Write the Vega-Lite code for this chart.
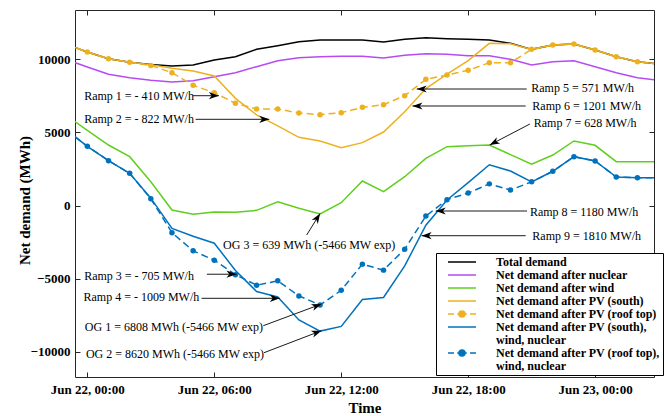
{
  "$schema": "https://vega.github.io/schema/vega-lite/v6.json",
  "width": 579,
  "height": 367,
  "autosize": {"type": "none"},
  "padding": {"left": 75, "top": 10, "right": 14, "bottom": 39},
  "background": "white",
  "config": {"view": {"stroke": "#262626", "strokeWidth": 1}, "font": "Liberation Serif"},
  "resolve": {"axis": {"x": "independent", "y": "independent"}},
  "datasets": {
    "series": [
      {"t": "2019-06-21T23:00", "total": 11030, "nuclear": 9990, "wind": 6170, "south": 11030, "roof": 11030, "south_all": 5170, "roof_all": 5170},
      {"t": "2019-06-22T00:00", "total": 10500, "nuclear": 9470, "wind": 5141, "south": 10500, "roof": 10500, "south_all": 4050, "roof_all": 4050},
      {"t": "2019-06-22T01:00", "total": 10040, "nuclear": 8972, "wind": 4138, "south": 10040, "roof": 10040, "south_all": 3066, "roof_all": 3066},
      {"t": "2019-06-22T02:00", "total": 9793, "nuclear": 8744, "wind": 3338, "south": 9793, "roof": 9793, "south_all": 2200, "roof_all": 2200},
      {"t": "2019-06-22T03:00", "total": 9650, "nuclear": 8561, "wind": 1628, "south": 9630, "roof": 9580, "south_all": 500, "roof_all": 460},
      {"t": "2019-06-22T04:00", "total": 9542, "nuclear": 8447, "wind": -308, "south": 9382, "roof": 9086, "south_all": -1562, "roof_all": -1858},
      {"t": "2019-06-22T05:00", "total": 9610, "nuclear": 8538, "wind": -604, "south": 9200, "roof": 8219, "south_all": -2100, "roof_all": -3100},
      {"t": "2019-06-22T06:00", "total": 9952, "nuclear": 8812, "wind": -446, "south": 8858, "roof": 7718, "south_all": -2580, "roof_all": -3740},
      {"t": "2019-06-22T07:00", "total": 10180, "nuclear": 9086, "wind": -465, "south": 7330, "roof": 6988, "south_all": -4440, "roof_all": -4730},
      {"t": "2019-06-22T08:00", "total": 10682, "nuclear": 9496, "wind": -330, "south": 6200, "roof": 6600, "south_all": -5880, "roof_all": -5450},
      {"t": "2019-06-22T09:00", "total": 10933, "nuclear": 9906, "wind": 260, "south": 5450, "roof": 6600, "south_all": -6260, "roof_all": -5150},
      {"t": "2019-06-22T10:00", "total": 11206, "nuclear": 10112, "wind": -191, "south": 4662, "roof": 6327, "south_all": -7832, "roof_all": -6185},
      {"t": "2019-06-22T11:00", "total": 11320, "nuclear": 10180, "wind": -581, "south": 4412, "roof": 6213, "south_all": -8590, "roof_all": -6800},
      {"t": "2019-06-22T12:00", "total": 11320, "nuclear": 10203, "wind": 193, "south": 3956, "roof": 6350, "south_all": -8270, "roof_all": -5800},
      {"t": "2019-06-22T13:00", "total": 11320, "nuclear": 10203, "wind": 1675, "south": 4298, "roof": 6714, "south_all": -6430, "roof_all": -4010},
      {"t": "2019-06-22T14:00", "total": 11183, "nuclear": 10089, "wind": 946, "south": 5027, "roof": 6897, "south_all": -6290, "roof_all": -4420},
      {"t": "2019-06-22T15:00", "total": 11366, "nuclear": 10271, "wind": 1970, "south": 6418, "roof": 7512, "south_all": -4130, "roof_all": -2990},
      {"t": "2019-06-22T16:00", "total": 11480, "nuclear": 10385, "wind": 3228, "south": 8000, "roof": 8630, "south_all": -1350, "roof_all": -720},
      {"t": "2019-06-22T17:00", "total": 11411, "nuclear": 10340, "wind": 4022, "south": 8994, "roof": 8926, "south_all": 380, "roof_all": 400},
      {"t": "2019-06-22T18:00", "total": 11366, "nuclear": 10248, "wind": 4093, "south": 9906, "roof": 9245, "south_all": 1560, "roof_all": 850},
      {"t": "2019-06-22T19:00", "total": 11320, "nuclear": 10248, "wind": 4138, "south": 11092, "roof": 9770, "south_all": 2790, "roof_all": 1480},
      {"t": "2019-06-22T20:00", "total": 11092, "nuclear": 9998, "wind": 3477, "south": 11069, "roof": 9770, "south_all": 2360, "roof_all": 1058},
      {"t": "2019-06-22T21:00", "total": 10680, "nuclear": 9610, "wind": 2818, "south": 10680, "roof": 10680, "south_all": 1620, "roof_all": 1620},
      {"t": "2019-06-22T22:00", "total": 10978, "nuclear": 9838, "wind": 3454, "south": 10978, "roof": 10978, "south_all": 2340, "roof_all": 2340},
      {"t": "2019-06-22T23:00", "total": 11046, "nuclear": 9906, "wind": 4412, "south": 11046, "roof": 11046, "south_all": 3340, "roof_all": 3340},
      {"t": "2019-06-23T00:00", "total": 10636, "nuclear": 9496, "wind": 4118, "south": 10636, "roof": 10636, "south_all": 3050, "roof_all": 3050},
      {"t": "2019-06-23T01:00", "total": 10180, "nuclear": 9086, "wind": 2996, "south": 10180, "roof": 10180, "south_all": 1950, "roof_all": 1950},
      {"t": "2019-06-23T02:00", "total": 9838, "nuclear": 8744, "wind": 2996, "south": 9838, "roof": 9838, "south_all": 1904, "roof_all": 1904},
      {"t": "2019-06-23T03:00", "total": 9678, "nuclear": 8561, "wind": 2996, "south": 9678, "roof": 9678, "south_all": 1904, "roof_all": 1904}
    ],
    "labels": [
      {"t": "2019-06-21T23:51", "v": 7510, "text": "Ramp 1 = - 410 MW/h"},
      {"t": "2019-06-21T23:51", "v": 5896, "text": "Ramp 2 = - 822 MW/h"},
      {"t": "2019-06-21T23:51", "v": -4822, "text": "Ramp 3 = - 705 MW/h"},
      {"t": "2019-06-21T23:49", "v": -6238, "text": "Ramp 4 = - 1009 MW/h"},
      {"t": "2019-06-21T23:53", "v": -8290, "text": "OG 1 = 6808 MWh (-5466 MW exp)"},
      {"t": "2019-06-21T23:56", "v": -10157, "text": "OG 2 = 8620 MWh (-5466 MW exp)"},
      {"t": "2019-06-22T06:25", "v": -2702, "text": "OG 3 = 639 MWh (-5466 MW exp)"},
      {"t": "2019-06-22T20:59", "v": 8016, "text": "Ramp 5 = 571 MW/h"},
      {"t": "2019-06-22T21:02", "v": 6785, "text": "Ramp 6 = 1201 MW/h"},
      {"t": "2019-06-22T21:06", "v": 5622, "text": "Ramp 7 = 628 MW/h"},
      {"t": "2019-06-22T20:55", "v": -424, "text": "Ramp 8 = 1180 MW/h"},
      {"t": "2019-06-22T21:02", "v": -2066, "text": "Ramp 9 = 1810 MW/h"}
    ],
    "arrows": [
      {"id": "R1", "t": "2019-06-22T04:59", "v": 7510, "t2": "2019-06-22T06:13", "v2": 7510},
      {"id": "R2", "t": "2019-06-22T05:07", "v": 5896, "t2": "2019-06-22T08:36", "v2": 5896},
      {"id": "R3", "t": "2019-06-22T05:39", "v": -4700, "t2": "2019-06-22T07:03", "v2": -4700},
      {"id": "R4", "t": "2019-06-22T05:24", "v": -6347, "t2": "2019-06-22T09:06", "v2": -6347},
      {"id": "OG1", "t": "2019-06-22T08:19", "v": -8222, "t2": "2019-06-22T11:04", "v2": -6737},
      {"id": "OG2", "t": "2019-06-22T08:21", "v": -10068, "t2": "2019-06-22T11:04", "v2": -8564},
      {"id": "OG3", "t": "2019-06-22T10:22", "v": -2018, "t2": "2019-06-22T11:00", "v2": -547},
      {"id": "R5", "t": "2019-06-22T20:46", "v": 7968, "t2": "2019-06-22T15:34", "v2": 7968},
      {"id": "R6", "t": "2019-06-22T20:43", "v": 6806, "t2": "2019-06-22T15:22", "v2": 6806},
      {"id": "R7", "t": "2019-06-22T20:55", "v": 5574, "t2": "2019-06-22T19:01", "v2": 4138},
      {"id": "R8", "t": "2019-06-22T20:47", "v": -376, "t2": "2019-06-22T16:28", "v2": -376},
      {"id": "R9", "t": "2019-06-22T20:43", "v": -2066, "t2": "2019-06-22T15:48", "v2": -2066}
    ]
  },
  "layer": [
    {
      "data": {"name": "series"},
      "mark": {"type": "line", "clip": true, "strokeWidth": 1.5},
      "encoding": {
        "x": {"field": "t", "type": "temporal", "scale": {"domain": [{"year": 2019, "month": 6, "date": 21, "hours": 23, "minutes": 25}, {"year": 2019, "month": 6, "date": 23, "hours": 2, "minutes": 47}], "nice": false},
          "axis": {"orient": "bottom", "values": [{"year": 2019, "month": 6, "date": 22, "hours": 0}, {"year": 2019, "month": 6, "date": 22, "hours": 6}, {"year": 2019, "month": 6, "date": 22, "hours": 12}, {"year": 2019, "month": 6, "date": 22, "hours": 18}, {"year": 2019, "month": 6, "date": 23, "hours": 0}],
            "format": "%b %d, %H:%M", "title": "Time", "domain": false, "grid": false, "tickSize": -5, "tickColor": "#262626", "labelPadding": 11,
            "labelFont": "Liberation Serif", "labelFontSize": 13, "labelFontWeight": "bold", "labelColor": "#000", "labelFlush": false, "labelOverlap": false,
            "titleFont": "Liberation Serif", "titleFontSize": 15, "titleFontWeight": "bold", "titleColor": "#000", "titleY": 30, "titleBaseline": "middle"}},
        "y": {"field": "total", "type": "quantitative", "scale": {"domain": [-11730, 13372], "nice": false, "zero": false},
          "axis": {"orient": "left", "values": [-10000, -5000, 0, 5000, 10000], "format": "d", "title": "Net demand (MWh)", "domain": false, "grid": false, "tickSize": -5, "tickColor": "#262626", "labelPadding": 10,
            "labelFont": "Liberation Serif", "labelFontSize": 13, "labelFontWeight": "bold", "labelColor": "#000",
            "titleFont": "Liberation Serif", "titleFontSize": 15, "titleFontWeight": "bold", "titleColor": "#000", "titleX": -51, "titleY": 190, "titleBaseline": "middle"}},
        "color": {"datum": "Total demand", "type": "nominal",
          "scale": {"domain": ["Total demand", "Net demand after nuclear", "Net demand after wind", "Net demand after PV (south)", "Net demand after PV (roof top)", "Net demand after PV (south), wind, nuclear", "Net demand after PV (roof top), wind, nuclear"],
            "range": ["#000000", "#b54cf2", "#5fcf1e", "#edb120", "#edb120", "#0072bd", "#0072bd"]},
          "legend": {"orient": "none", "legendX": 361, "legendY": 243, "title": null, "padding": 3, "fillColor": "white", "strokeColor": "#000",
            "labelFont": "Liberation Serif", "labelFontSize": 12, "labelFontWeight": "bold", "labelColor": "#000", "labelLimit": 400,
            "symbolSize": 64, "symbolOffset": 17, "labelOffset": 28, "rowPadding": 1, "symbolStrokeWidth": 1.5,
            "labelExpr": "datum.label == 'Net demand after PV (south), wind, nuclear' ? ['Net demand after PV (south),', 'wind, nuclear'] : (datum.label == 'Net demand after PV (roof top), wind, nuclear' ? ['Net demand after PV (roof top),', 'wind, nuclear'] : datum.label)",
            "encode": {
              "labels": {"update": {"lineHeight": {"value": 13}}},
              "symbols": {"update": {
                "shape": {"signal": "indexof(['Net demand after PV (roof top)', 'Net demand after PV (roof top), wind, nuclear'], datum.value) >= 0 ? 'M-3.5,0H-2M-1.2,0H1.2M2,0H3.5M0.75,0A0.75,0.75 0 1 1 -0.75,0A0.75,0.75 0 1 1 0.75,0' : 'M-3.5,0H3.5'"},
                "fill": {"signal": "scale('color', datum.value)"},
                "stroke": {"signal": "scale('color', datum.value)"},
                "strokeWidth": {"value": 1.5},
                "opacity": {"value": 1}}}}}}
      }
    },
    {
      "data": {"name": "series"},
      "mark": {"type": "line", "clip": true, "strokeWidth": 1.5},
      "encoding": {
        "x": {"field": "t", "type": "temporal", "scale": {"domain": [{"year": 2019, "month": 6, "date": 21, "hours": 23, "minutes": 25}, {"year": 2019, "month": 6, "date": 23, "hours": 2, "minutes": 47}], "nice": false},
          "axis": {"orient": "top", "values": [{"year": 2019, "month": 6, "date": 22, "hours": 0}, {"year": 2019, "month": 6, "date": 22, "hours": 6}, {"year": 2019, "month": 6, "date": 22, "hours": 12}, {"year": 2019, "month": 6, "date": 22, "hours": 18}, {"year": 2019, "month": 6, "date": 23, "hours": 0}],
            "labels": false, "title": null, "domain": false, "grid": false, "tickSize": -5, "tickColor": "#262626"}},
        "y": {"field": "nuclear", "type": "quantitative", "scale": {"domain": [-11730, 13372], "nice": false, "zero": false},
          "axis": {"orient": "right", "values": [-10000, -5000, 0, 5000, 10000], "labels": false, "title": null, "domain": false, "grid": false, "tickSize": -5, "tickColor": "#262626"}},
        "color": {"datum": "Net demand after nuclear", "type": "nominal"}
      }
    },
    {
      "data": {"name": "series"},
      "mark": {"type": "line", "clip": true, "strokeWidth": 1.5},
      "encoding": {
        "x": {"field": "t", "type": "temporal", "axis": null},
        "y": {"field": "wind", "type": "quantitative", "axis": null},
        "color": {"datum": "Net demand after wind", "type": "nominal"}
      }
    },
    {
      "data": {"name": "series"},
      "mark": {"type": "line", "clip": true, "strokeWidth": 1.5},
      "encoding": {
        "x": {"field": "t", "type": "temporal", "axis": null},
        "y": {"field": "south", "type": "quantitative", "axis": null},
        "color": {"datum": "Net demand after PV (south)", "type": "nominal"}
      }
    },
    {
      "data": {"name": "series"},
      "mark": {"type": "line", "clip": true, "strokeWidth": 1.5, "strokeDash": [7, 4]},
      "encoding": {
        "x": {"field": "t", "type": "temporal", "axis": null},
        "y": {"field": "roof", "type": "quantitative", "axis": null},
        "color": {"datum": "Net demand after PV (roof top)", "type": "nominal"}
      }
    },
    {
      "data": {"name": "series"},
      "mark": {"type": "point", "clip": true, "filled": true, "size": 30, "opacity": 1, "strokeWidth": 0},
      "encoding": {
        "x": {"field": "t", "type": "temporal", "axis": null},
        "y": {"field": "roof", "type": "quantitative", "axis": null},
        "color": {"datum": "Net demand after PV (roof top)", "type": "nominal"}
      }
    },
    {
      "data": {"name": "series"},
      "mark": {"type": "line", "clip": true, "strokeWidth": 1.5},
      "encoding": {
        "x": {"field": "t", "type": "temporal", "axis": null},
        "y": {"field": "south_all", "type": "quantitative", "axis": null},
        "color": {"datum": "Net demand after PV (south), wind, nuclear", "type": "nominal"}
      }
    },
    {
      "data": {"name": "series"},
      "mark": {"type": "line", "clip": true, "strokeWidth": 1.5, "strokeDash": [7, 4]},
      "encoding": {
        "x": {"field": "t", "type": "temporal", "axis": null},
        "y": {"field": "roof_all", "type": "quantitative", "axis": null},
        "color": {"datum": "Net demand after PV (roof top), wind, nuclear", "type": "nominal"}
      }
    },
    {
      "data": {"name": "series"},
      "mark": {"type": "point", "clip": true, "filled": true, "size": 30, "opacity": 1, "strokeWidth": 0},
      "encoding": {
        "x": {"field": "t", "type": "temporal", "axis": null},
        "y": {"field": "roof_all", "type": "quantitative", "axis": null},
        "color": {"datum": "Net demand after PV (roof top), wind, nuclear", "type": "nominal"}
      }
    },
    {
      "data": {"name": "arrows"},
      "mark": {"type": "rule", "color": "#1a1a1a", "strokeWidth": 1},
      "encoding": {
        "x": {"field": "t", "type": "temporal", "axis": null},
        "x2": {"field": "t2"},
        "y": {"field": "v", "type": "quantitative", "axis": null},
        "y2": {"field": "v2"}
      }
    },
    {
      "data": {"name": "arrows"},
      "transform": [{"filter": {"field": "id", "oneOf": ["R1", "R2", "R3", "R4"]}}],
      "mark": {"type": "point", "shape": "M0,0L-1,-0.36L-0.72,0L-1,0.36Z", "size": 400, "filled": true, "color": "#000", "opacity": 1, "strokeWidth": 0, "angle": 0},
      "encoding": {
        "x": {"field": "t2", "type": "temporal", "axis": null},
        "y": {"field": "v2", "type": "quantitative", "axis": null}
      }
    },
    {
      "data": {"name": "arrows"},
      "transform": [{"filter": {"field": "id", "oneOf": ["R5", "R6", "R8", "R9"]}}],
      "mark": {"type": "point", "shape": "M0,0L-1,-0.36L-0.72,0L-1,0.36Z", "size": 400, "filled": true, "color": "#000", "opacity": 1, "strokeWidth": 0, "angle": 180},
      "encoding": {
        "x": {"field": "t2", "type": "temporal", "axis": null},
        "y": {"field": "v2", "type": "quantitative", "axis": null}
      }
    },
    {
      "data": {"name": "arrows"},
      "transform": [{"filter": {"field": "id", "oneOf": ["R7"]}}],
      "mark": {"type": "point", "shape": "M0,0L-1,-0.36L-0.72,0L-1,0.36Z", "size": 400, "filled": true, "color": "#000", "opacity": 1, "strokeWidth": 0, "angle": 152},
      "encoding": {
        "x": {"field": "t2", "type": "temporal", "axis": null},
        "y": {"field": "v2", "type": "quantitative", "axis": null}
      }
    },
    {
      "data": {"name": "arrows"},
      "transform": [{"filter": {"field": "id", "oneOf": ["OG1", "OG2"]}}],
      "mark": {"type": "point", "shape": "M0,0L-1,-0.36L-0.72,0L-1,0.36Z", "size": 400, "filled": true, "color": "#000", "opacity": 1, "strokeWidth": 0, "angle": 339.5},
      "encoding": {
        "x": {"field": "t2", "type": "temporal", "axis": null},
        "y": {"field": "v2", "type": "quantitative", "axis": null}
      }
    },
    {
      "data": {"name": "arrows"},
      "transform": [{"filter": {"field": "id", "oneOf": ["OG3"]}}],
      "mark": {"type": "point", "shape": "M0,0L-1,-0.36L-0.72,0L-1,0.36Z", "size": 400, "filled": true, "color": "#000", "opacity": 1, "strokeWidth": 0, "angle": 302},
      "encoding": {
        "x": {"field": "t2", "type": "temporal", "axis": null},
        "y": {"field": "v2", "type": "quantitative", "axis": null}
      }
    },
    {
      "data": {"name": "labels"},
      "mark": {"type": "text", "align": "left", "baseline": "middle", "font": "Liberation Serif", "fontSize": 12, "color": "#000"},
      "encoding": {
        "x": {"field": "t", "type": "temporal", "axis": null},
        "y": {"field": "v", "type": "quantitative", "axis": null},
        "text": {"field": "text"}
      }
    }
  ]
}
